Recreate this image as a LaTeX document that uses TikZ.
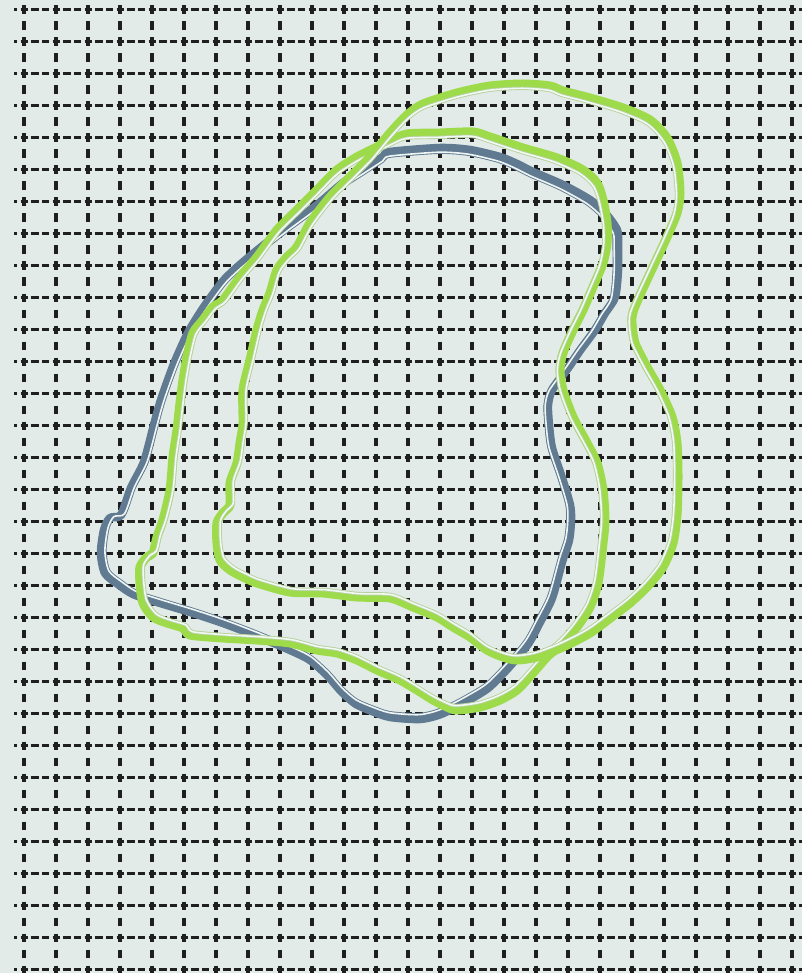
\documentclass[tikz,border=0pt]{standalone}
\usetikzlibrary{calc}
\definecolor{bg}{HTML}{E2EBE8}
\definecolor{bluec}{HTML}{5F7A91}
\definecolor{greenc}{HTML}{9DDB4A}
\definecolor{greenedge}{HTML}{B5D29C}
\tikzset{
  hgrid/.style={line width=3.3pt, black!88, dash pattern=on 7.5pt off 3.17pt, dash phase=4.17pt},
  vgrid/.style={line width=3.3pt, black!88, dash pattern=on 8.5pt off 7.5pt, dash phase=10.5pt},
  bluethick/.style={line width=8.5pt, bluec, line join=round},
  bluethin/.style={line width=0.9pt, bluec, double=bg!50!white, double distance=1.6pt, line join=round},
  greenthick/.style={line width=9pt, greenc, line join=round},
  greenthin/.style={line width=0.9pt, greenedge, double=bg!40!white, double distance=1.6pt, line join=round},
}
\newcommand{\bluepath}{plot[smooth cycle,tension=0.45] coordinates {
(390,152)(440,148)(470,150)(500,157)(517,164)(533,172)(563,185)(590,200)(605,213)(617,230)(618,245)(618,270)(615,297)(605,313)(595,330)(581,349)(568,368)(552,390)(548,405)(549,425)(552,448)(562,478)(570,505)(571,520)(569,540)(562,562)(552,598)(540,622)(528,644)(508,668)(488,688)(465,702)(441,714)(420,719)(390,717)(372,711)(356,704)(342,692)(328,676)(310,660)(290,650)(257,636)(223,623)(190,612)(157,602)(133,594)(118,584)(105,573)(101,553)(104,530)(110,518)(121,515)(131,488)(144,462)(154,425)(161,400)(174,364)(188,333)(202,310)(214,293)(225,279)(241,264)(264,245)(290,225)(317,205)(343,183)(363,170)(383,157)}}
\newcommand{\gonepath}{plot[smooth cycle,tension=0.45] coordinates {
(390,133)(407,115)(423,104)(457,93)(490,86)(523,84)(550,86)(563,91)(590,98)(623,108)(650,120)(667,138)(677,163)(680,193)(677,213)(667,237)(653,267)(640,295)(633,312)(632,323)(635,343)(647,367)(660,390)(672,417)(677,443)(678,477)(677,515)(673,543)(663,567)(647,587)(630,603)(617,613)(590,633)(563,647)(537,657)(517,660)(503,657)(487,650)(470,637)(453,627)(437,617)(413,607)(390,598)(357,597)(323,593)(290,592)(257,583)(243,577)(230,570)(220,560)(217,543)(217,523)(223,513)(230,505)(230,483)(237,463)(240,443)(243,423)(243,390)(250,360)(257,330)(263,310)(270,293)(277,270)(287,257)(297,247)(310,223)(330,197)(350,177)(370,157)}}
\newcommand{\gtwopath}{plot[smooth cycle,tension=0.45] coordinates {
(390,141)(407,134)(440,133)(473,132)(490,137)(523,148)(557,158)(583,170)(597,183)(603,200)(607,223)(607,243)(603,263)(593,287)(583,310)(573,330)(563,353)(560,370)(563,390)(573,417)(587,443)(597,463)(603,490)(605,520)(603,543)(598,583)(590,607)(577,627)(563,643)(547,657)(533,673)(517,690)(500,700)(480,707)(457,710)(447,707)(433,700)(417,690)(400,680)(377,670)(357,660)(337,653)(317,650)(290,643)(257,640)(223,638)(190,635)(183,628)(167,623)(153,617)(143,603)(140,583)(140,567)(147,557)(153,553)(157,537)(163,520)(170,490)(173,457)(177,430)(180,403)(183,380)(187,357)(193,333)(203,320)(213,307)(223,300)(240,277)(257,257)(277,230)(297,210)(317,190)(337,170)(357,157)(377,147)}}
\begin{document}
\begin{tikzpicture}[x=1pt,y=-1pt]
\fill[bg] (0,0) rectangle (802,973);
\useasboundingbox (0,0) rectangle (802,973);
\begin{scope}
\clip (0,0) rectangle (802,973);
\foreach \k in {0,...,30} {
  \draw[hgrid] (14,{9.5+32*\k}) -- (802,{9.5+32*\k});
}
\foreach \k in {0,...,24} {
  \draw[vgrid] ({24+32*\k},0) -- ({24+32*\k},973);
}
\end{scope}
% blue loop
\draw[bluethick] \bluepath;
\draw[bluethin, scale around={0.985:(360,430)}] \bluepath;
% second green loop
\draw[greenthick] \gtwopath;
\draw[greenthin, scale around={0.985:(380,420)}] \gtwopath;
% first green loop
\draw[greenthick] \gonepath;
\draw[greenthin, scale around={0.985:(450,370)}] \gonepath;
\end{tikzpicture}
\end{document}
